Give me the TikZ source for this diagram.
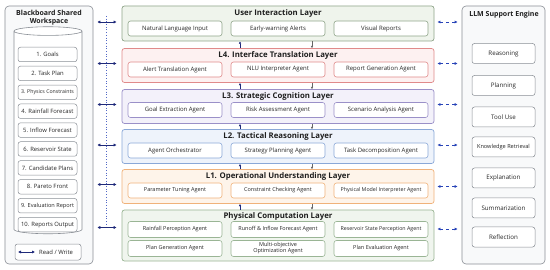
\documentclass[tikz,border=0pt]{standalone}
\usepackage{fontspec}
\setmainfont{Open Sans}
\usetikzlibrary{shapes.geometric,arrows.meta}

\definecolor{uiB}{HTML}{8FA58A}\definecolor{uiF}{HTML}{EFF4EC}
\definecolor{tlB}{HTML}{E08A8A}\definecolor{tlF}{HTML}{FDF1F1}
\definecolor{scB}{HTML}{9A90C8}\definecolor{scF}{HTML}{F3F1FA}
\definecolor{trB}{HTML}{8AA8D8}\definecolor{trF}{HTML}{EEF3FB}
\definecolor{ouB}{HTML}{F0B27A}\definecolor{ouF}{HTML}{FEF4EA}
\definecolor{pcB}{HTML}{9AB595}\definecolor{pcF}{HTML}{F0F5EE}
\definecolor{panB}{HTML}{8A8F96}\definecolor{panF}{HTML}{F8F9FA}
\definecolor{navy}{HTML}{1F2A7A}
\definecolor{link}{HTML}{2844B8}

\tikzset{
  layer/.style={draw, rounded corners=2.5pt, line width=0.7pt, minimum width=312pt, minimum height=34pt, inner sep=0pt},
  title/.style={font=\fontsize{7.8}{8.8}\selectfont\bfseries, text=black!88},
  side/.style={font=\fontsize{7}{8.6}\selectfont\bfseries, text=black!88},
  agent/.style={draw, fill=white, rounded corners=2.5pt, line width=0.6pt, minimum width=94pt, minimum height=15pt, inner sep=1pt, font=\fontsize{6}{6.8}\selectfont, text=black!85},
  slot/.style={draw=panB, fill=white, rounded corners=2.5pt, line width=0.5pt, minimum width=59pt, minimum height=14.5pt, inner sep=1pt, font=\fontsize{5.9}{6.6}\selectfont, text=black!85},
  tool/.style={draw=panB, fill=white, rounded corners=2.5pt, line width=0.5pt, minimum width=63pt, minimum height=20pt, inner sep=1pt, font=\fontsize{6.2}{7}\selectfont, text=black!85},
  panel/.style={draw=panB, fill=panF, rounded corners=4pt, line width=0.6pt, inner sep=0pt},
  rw/.style={navy, line width=0.8pt, {Latex[length=3pt,width=3.2pt]}-{Latex[length=3pt,width=3.2pt]}},
  up/.style={navy, line width=0.6pt, -{Latex[length=2.4pt,width=2.6pt]}},
  down/.style={black!60, line width=0.5pt, -{Latex[length=2.2pt,width=2.4pt]}},
  llm/.style={link, dashed, line width=0.6pt, {Latex[length=3pt,width=3pt]}-{Latex[length=3pt,width=3pt]}},
  bus/.style={link!80, dotted, line width=0.7pt}
}

\begin{document}
\begin{tikzpicture}[x=1pt, y=-1pt]
  \fill[white] (0,0) rectangle (550,270);
  \useasboundingbox (0,0) rectangle (550,270);

  % blackboard workspace
  \node[panel, minimum width=88pt, minimum height=258pt] (BB) at (49,135) {};
  \node[side, align=center] (BBt) at (49,17.5) {Blackboard Shared\\Workspace};
  \node[cylinder, shape border rotate=90, aspect=1.3, draw=panB, fill=white, line width=0.6pt, minimum width=68pt, minimum height=207pt] (DB) at (48,133.5) {};
  \node[slot] (S1) at (47.5,54.5) {1. Goals};
  \node[slot] (S2) at (47.5,73.4) {2. Task Plan};
  \node[slot, font=\fontsize{5.2}{6}\selectfont] (S3) at (47.5,92.3) {3. Physics Constraints};
  \node[slot] (S4) at (47.5,111.2) {4. Rainfall Forecast};
  \node[slot] (S5) at (47.5,130.1) {5. Inflow Forecast};
  \node[slot] (S6) at (47.5,149) {6. Reservoir State};
  \node[slot] (S7) at (47.5,167.9) {7. Candidate Plans};
  \node[slot] (S8) at (47.5,186.8) {8. Pareto Front};
  \node[slot, font=\fontsize{5.6}{6.4}\selectfont] (S9) at (47.5,205.7) {9. Evaluation Report};
  \node[slot] (S10) at (47.5,224.6) {10. Reports Output};
  \node[slot, minimum width=66pt, minimum height=16pt] (Key) at (48,252) {};
  \coordinate (KeyA) at (18,252);
  \coordinate (KeyB) at (35,252);
  \draw[rw] (KeyA) -- (KeyB);
  \node[anchor=west, inner sep=0pt, font=\fontsize{5.9}{6.6}\selectfont, text=black!85] (KeyT) at (39,252) {Read / Write};

  % LLM support engine
  \node[panel, minimum width=83pt, minimum height=258pt] (LLM) at (503.5,135) {};
  \node[side] (LLMt) at (504,15) {LLM Support Engine};
  \node[tool] (T1) at (503.5,53.5) {Reasoning};
  \node[tool] (T2) at (503.5,85.5) {Planning};
  \node[tool] (T3) at (503.5,117) {Tool Use};
  \node[tool, font=\fontsize{5.6}{6.4}\selectfont] (T4) at (503.5,147) {Knowledge Retrieval};
  \node[tool] (T5) at (503.5,178) {Explanation};
  \node[tool] (T6) at (503.5,208) {Summarization};
  \node[tool] (T7) at (503.5,237) {Reflection};

  % layers
  \node[layer, draw=uiB, fill=uiF, minimum height=35pt] (UI) at (278,23.5) {};
  \node[title] (UIt) at ([yshift=-7.5pt]UI.north) {User Interaction Layer};
  \node[agent, draw=uiB] (UI1) at (175,28.5) {Natural Language Input};
  \node[agent, draw=uiB] (UI2) at (278,28.5) {Early-warning Alerts};
  \node[agent, draw=uiB] (UI3) at (381,28.5) {Visual Reports};

  \node[layer, draw=tlB, fill=tlF] (L4) at (278,65.5) {};
  \node[title] (L4t) at ([yshift=-7pt]L4.north) {L4. Interface Translation Layer};
  \node[agent, draw=tlB] (L4a) at (175,69.5) {Alert Translation Agent};
  \node[agent, draw=tlB] (L4b) at (278,69.5) {NLU Interpreter Agent};
  \node[agent, draw=tlB] (L4c) at (381,69.5) {Report Generation Agent};

  \node[layer, draw=scB, fill=scF] (L3) at (278,106.5) {};
  \node[title] (L3t) at ([yshift=-7pt]L3.north) {L3. Strategic Cognition Layer};
  \node[agent, draw=scB] (L3a) at (175,110) {Goal Extraction Agent};
  \node[agent, draw=scB] (L3b) at (278,110) {Risk Assessment Agent};
  \node[agent, draw=scB] (L3c) at (381,110) {Scenario Analysis Agent};

  \node[layer, draw=trB, fill=trF] (L2) at (278,146.5) {};
  \node[title] (L2t) at ([yshift=-7pt]L2.north) {L2. Tactical Reasoning Layer};
  \node[agent, draw=trB] (L2a) at (175,150.5) {Agent Orchestrator};
  \node[agent, draw=trB] (L2b) at (278,150.5) {Strategy Planning Agent};
  \node[agent, draw=trB] (L2c) at (381,150.5) {Task Decomposition Agent};

  \node[layer, draw=ouB, fill=ouF] (L1) at (278,186.5) {};
  \node[title] (L1t) at ([yshift=-7pt]L1.north) {L1. Operational Understanding Layer};
  \node[agent, draw=ouB, font=\fontsize{5.5}{6.4}\selectfont] (L1a) at (175,190.5) {Parameter Tuning Agent};
  \node[agent, draw=ouB, font=\fontsize{5.5}{6.4}\selectfont] (L1b) at (278,190.5) {Constraint Checking Agent};
  \node[agent, draw=ouB, font=\fontsize{5.3}{6.4}\selectfont] (L1c) at (381,190.5) {Physical Model Interpreter Agent};

  \node[layer, draw=pcB, fill=pcF, minimum height=51pt] (PC) at (278,235.5) {};
  \node[title] (PCt) at ([yshift=-7pt]PC.north) {Physical Computation Layer};
  \node[agent, draw=pcB, minimum height=16pt, font=\fontsize{5.5}{6.4}\selectfont] (PC1) at (175,229.5) {Rainfall Perception Agent};
  \node[agent, draw=pcB, minimum height=16pt, font=\fontsize{5.5}{6.4}\selectfont] (PC2) at (278,229.5) {Runoff \& Inflow Forecast Agent};
  \node[agent, draw=pcB, minimum height=16pt, font=\fontsize{5.3}{6.4}\selectfont] (PC3) at (381,229.5) {Reservoir State Perception Agent};
  \node[agent, draw=pcB, minimum height=16pt, font=\fontsize{5.5}{6.4}\selectfont] (PC4) at (175,248.5) {Plan Generation Agent};
  \node[agent, draw=pcB, minimum height=16pt, font=\fontsize{5.5}{5.9}\selectfont, align=center] (PC5) at (278,248.5) {Multi-objective\\Optimization Agent};
  \node[agent, draw=pcB, minimum height=16pt, font=\fontsize{5.5}{6.4}\selectfont] (PC6) at (381,248.5) {Plan Evaluation Agent};

  % flow between layers
  \draw[up] ([xshift=-38pt]L4.north) -- ([xshift=-38pt]UI.south);
  \draw[up] ([xshift=-38pt]L3.north) -- ([xshift=-38pt]L4.south);
  \draw[up] ([xshift=-38pt]L2.north) -- ([xshift=-38pt]L3.south);
  \draw[up] ([xshift=-38pt]L1.north) -- ([xshift=-38pt]L2.south);
  \draw[up] ([xshift=-38pt]PC.north) -- ([xshift=-38pt]L1.south);
  \draw[down] ([xshift=34pt]UI.south) -- ([xshift=34pt]L4.north);
  \draw[down] ([xshift=34pt]L4.south) -- ([xshift=34pt]L3.north);
  \draw[down] ([xshift=34pt]L3.south) -- ([xshift=34pt]L2.north);
  \draw[down] ([xshift=34pt]L2.south) -- ([xshift=34pt]L1.north);
  \draw[down] ([xshift=34pt]L1.south) -- ([xshift=34pt]PC.north);

  % blackboard bus
  \coordinate (busT) at (106,16);
  \coordinate (busB) at (106,228);
  \draw[bus] (busT) -- (busB);
  \draw[rw, shorten <=4pt, shorten >=5pt] ([yshift=1.5pt]BB.east |- UI.west) -- ([yshift=1.5pt]UI.west);
  \draw[rw, shorten <=4pt, shorten >=5pt] ([yshift=2pt]BB.east |- L4.west) -- ([yshift=2pt]L4.west);
  \draw[rw, shorten <=4pt, shorten >=5pt] ([yshift=2pt]BB.east |- L3.west) -- ([yshift=2pt]L3.west);
  \draw[rw, shorten <=4pt, shorten >=5pt] ([yshift=1.5pt]BB.east |- L2.west) -- ([yshift=1.5pt]L2.west);
  \draw[rw, shorten <=4pt, shorten >=5pt] ([yshift=2pt]BB.east |- L1.west) -- ([yshift=2pt]L1.west);
  \draw[rw, shorten <=4pt, shorten >=5pt] ([yshift=8pt]BB.east |- PC.west) -- ([yshift=8pt]PC.west);

  % llm links
  \draw[llm, shorten <=3pt, shorten >=4pt] ([yshift=1.5pt]UI.east) -- ([yshift=1.5pt]LLM.west |- UI.east);
  \draw[llm, shorten <=3pt, shorten >=4pt] ([yshift=2pt]L4.east) -- ([yshift=2pt]LLM.west |- L4.east);
  \draw[llm, shorten <=3pt, shorten >=4pt] ([yshift=2pt]L3.east) -- ([yshift=2pt]LLM.west |- L3.east);
  \draw[llm, shorten <=3pt, shorten >=4pt] ([yshift=1.5pt]L2.east) -- ([yshift=1.5pt]LLM.west |- L2.east);
  \draw[llm, shorten <=3pt, shorten >=4pt] (L1.east) -- (LLM.west |- L1.east);
  \draw[llm, shorten <=3pt, shorten >=4pt] ([yshift=6.5pt]PC.east) -- ([yshift=6.5pt]LLM.west |- PC.east);
\end{tikzpicture}
\end{document}
